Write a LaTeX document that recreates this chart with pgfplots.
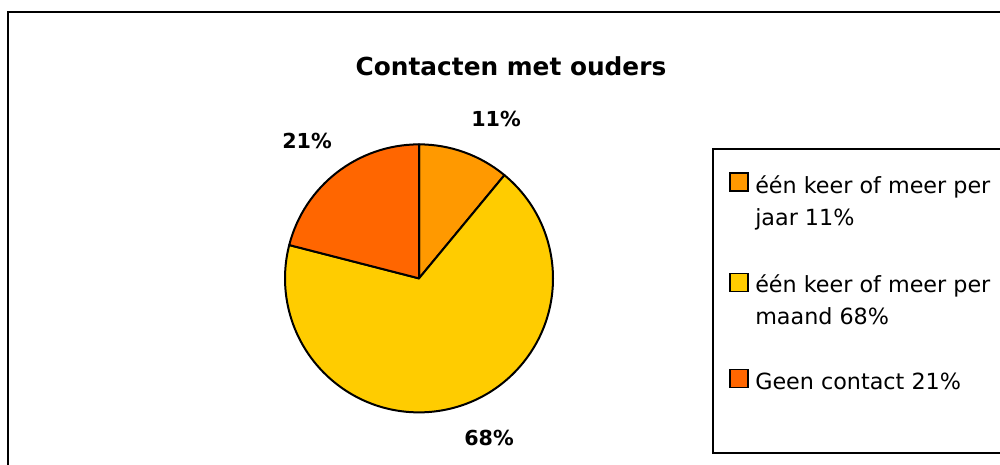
\documentclass[border=0pt]{standalone}
\usepackage{fontspec}
\setmainfont{DejaVu Sans}
\usepackage{pgfplots}
\usepackage{pgfplotstable}
\pgfplotsset{compat=1.18}

\definecolor{pieorange}{RGB}{255,153,0}
\definecolor{pieyellow}{RGB}{255,204,0}
\definecolor{piered}{RGB}{255,102,0}

% share of parents per contact frequency (percent)
\pgfplotstableread{
label value
jaar  11
maand 68
geen  21
}\piedata

\pgfplotstablegetelem{0}{value}\of\piedata \let\va\pgfplotsretval
\pgfplotstablegetelem{1}{value}\of\piedata \let\vb\pgfplotsretval
\pgfplotstablegetelem{2}{value}\of\piedata \let\vc\pgfplotsretval
\pgfmathsetmacro\aA{90-3.6*\va}
\pgfmathsetmacro\aB{\aA-3.6*\vb}
\pgfmathsetmacro\aC{\aB-3.6*\vc}
\def\R{100.5pt}

\begin{document}
\begin{tikzpicture}
\begin{axis}[
  scale only axis, width=750pt, height=348pt,
  xmin=0, xmax=1000, ymin=0, ymax=464,
  hide axis, clip=true,
]
% outer chart frame
\draw[line width=2.2pt] (axis cs:8,0) -- (axis cs:8,452) -- (axis cs:1000,452);
\node[font=\bfseries\fontsize{18.6}{22}\selectfont] at (axis cs:511,398) {Contacten met ouders};

% pie slices, clockwise from 12 o'clock
\filldraw[fill=pieorange, draw=black, line width=1.5pt, line join=round]
  (axis cs:419,186) -- ++(90:\R) arc[start angle=90, end angle=\aA, radius=\R] -- cycle;
\filldraw[fill=pieyellow, draw=black, line width=1.5pt, line join=round]
  (axis cs:419,186) -- ++(\aA:\R) arc[start angle=\aA, end angle=\aB, radius=\R] -- cycle;
\filldraw[fill=piered, draw=black, line width=1.5pt, line join=round]
  (axis cs:419,186) -- ++(\aB:\R) arc[start angle=\aB, end angle=\aC, radius=\R] -- cycle;

\node[font=\bfseries\fontsize{15.5}{18}\selectfont] at (axis cs:496,345) {11\%};
\node[font=\bfseries\fontsize{15.5}{18}\selectfont] at (axis cs:489,27) {68\%};
\node[font=\bfseries\fontsize{15.5}{18}\selectfont] at (axis cs:307,323) {21\%};

% legend
\draw[line width=1.6pt] (axis cs:1000,315) -- (axis cs:713,315) -- (axis cs:713,12) -- (axis cs:1000,12);
\filldraw[fill=pieorange, draw=black, line width=1.2pt] (axis cs:730,273) rectangle (axis cs:748,291);
\filldraw[fill=pieyellow, draw=black, line width=1.2pt] (axis cs:730,173) rectangle (axis cs:748,191);
\filldraw[fill=piered, draw=black, line width=1.2pt] (axis cs:730,77) rectangle (axis cs:748,95);
\begin{scope}[every node/.style={anchor=base west, inner sep=0pt, font=\fontsize{16.7}{20}\selectfont}]
\node at (axis cs:755,271) {één keer of meer per};
\node at (axis cs:755,239) {jaar 11\%};
\node at (axis cs:755,172) {één keer of meer per};
\node at (axis cs:755,140) {maand 68\%};
\node at (axis cs:755,75) {Geen contact 21\%};
\end{scope}
\end{axis}
\pgfresetboundingbox
\useasboundingbox (current axis.south west) rectangle (current axis.north east);
\end{tikzpicture}
\end{document}
